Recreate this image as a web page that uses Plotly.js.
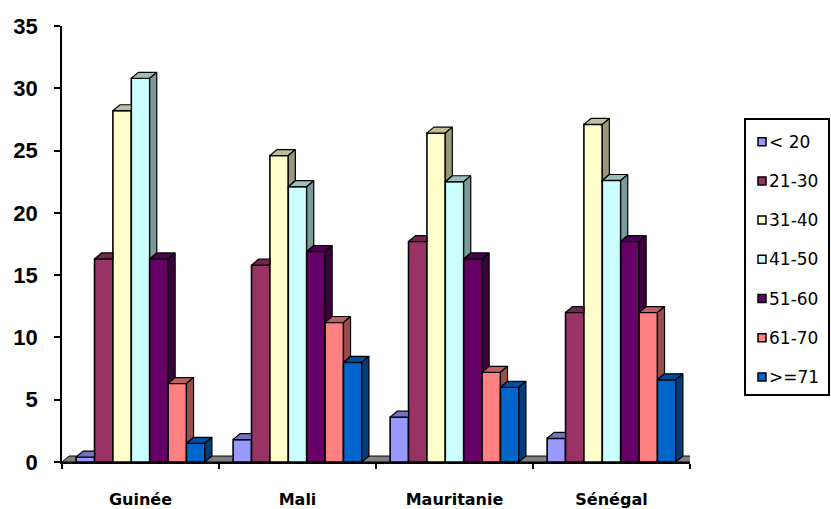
<!DOCTYPE html>
<html>
<head>
<meta charset="utf-8">
<script src="https://cdn.plot.ly/plotly-3.0.1.min.js"></script>
<style>
  html, body { margin: 0; padding: 0; background: #ffffff; }
  #chart { width: 831px; height: 509px; }
</style>
</head>
<body>
<div id="chart"></div>
<script>
// Répartition par tranche d'âge (%) selon le pays
const countries = ['Guinée', 'Mali', 'Mauritanie', 'Sénégal'];
const ageGroups = ['< 20', '21-30', '31-40', '41-50', '51-60', '61-70', '>=71'];

const under20   = [0.4, 1.8, 3.6, 1.9];
const age21to30 = [16.3, 15.8, 17.7, 12.0];
const age31to40 = [28.2, 24.6, 26.4, 27.1];
const age41to50 = [30.8, 22.1, 22.5, 22.6];
const age51to60 = [16.3, 16.9, 16.3, 17.7];
const age61to70 = [6.3, 11.2, 7.2, 12.0];
const over70    = [1.5, 8.0, 6.0, 6.6];

const seriesValues = [under20, age21to30, age31to40, age41to50, age51to60, age61to70, over70];
const seriesColors = ['#9999FF', '#993366', '#FFFFCC', '#CCFFFF', '#660066', '#FF8080', '#0066CC'];

const yTicks = [0, 5, 10, 15, 20, 25, 30, 35];

// Plot geometry (pixels)
const L = 62, T = 26, PW = 628, PH = 436;
const X_RANGE = [-0.5, 3.5], Y_RANGE = [0, 35];

// Bar layout in data units
const GROUP = 0.82;
const BW = GROUP / seriesValues.length;
// Pseudo-3D depth of each column (data units)
const DX = 0.045, DY = 0.48;

function shade(hex, f) {
  const n = parseInt(hex.slice(1), 16);
  const r = Math.round(((n >> 16) & 255) * f);
  const g = Math.round(((n >> 8) & 255) * f);
  const b = Math.round((n & 255) * f);
  return 'rgb(' + r + ',' + g + ',' + b + ')';
}

const traces = [];

// Front faces: ordinary bar traces
seriesValues.forEach((vals, k) => {
  traces.push({
    type: 'bar',
    name: ageGroups[k],
    x: countries.map((_, i) => i),
    y: vals,
    width: BW,
    offset: -GROUP / 2 + k * BW,
    marker: { color: seriesColors[k], line: { color: '#000000', width: 1.6 } },
    showlegend: false,
    customdata: countries,
    textposition: 'none',
    hovertemplate: '%{customdata}<br>' + ageGroups[k] + ' : %{y}<extra></extra>'
  });
});

// Top and right-side faces, trimmed where the neighbouring column hides them
seriesValues.forEach((vals, k) => {
  const topX = [], topY = [], sideX = [], sideY = [];
  vals.forEach((h, i) => {
    const xl = i - GROUP / 2 + k * BW;
    const xr = xl + BW;
    const next = k < seriesValues.length - 1 ? seriesValues[k + 1][i] : null;

    // top face
    if (next !== null && next >= h + DY) {
      // right corner hidden behind the taller neighbour
      topX.push(xl, xr, xr, xl + DX, xl, null);
      topY.push(h, h, h + DY, h + DY, h, null);
    } else {
      const c = next === null ? h : Math.max(next, h);
      topX.push(xl, xr, xr, xr + DX * (c - h) / DY, xr + DX, xl + DX, xl, null);
      topY.push(h, h, c, c, h + DY, h + DY, h, null);
    }

    // side face
    const bottom = next === null ? 0 : Math.max(0, next);
    if (h > bottom) {
      sideX.push(xr, xr + DX, xr + DX, xr, xr, null);
      sideY.push(bottom, bottom + DY, h + DY, h, bottom, null);
    }
  });
  traces.push({
    type: 'scatter', mode: 'lines', x: topX, y: topY, fill: 'toself',
    fillcolor: shade(seriesColors[k], 0.75),
    line: { color: '#000000', width: 1.2 },
    hoverinfo: 'skip', showlegend: false
  });
  if (sideX.length) {
    traces.push({
      type: 'scatter', mode: 'lines', x: sideX, y: sideY, fill: 'toself',
      fillcolor: shade(seriesColors[k], 0.6),
      line: { color: '#000000', width: 1.2 },
      hoverinfo: 'skip', showlegend: false
    });
  }
});

// Pixel → paper helpers for the key box
const px = v => (v - L) / PW;
const py = v => (T + PH - v) / PH;

const shapes = [
  // floor under the columns
  {
    type: 'path', xref: 'x', yref: 'y', layer: 'below',
    path: 'M ' + X_RANGE[0] + ',0 L ' + X_RANGE[1] + ',0 L ' + (X_RANGE[1] + DX) + ',' + DY +
          ' L ' + (X_RANGE[0] + DX) + ',' + DY + ' Z',
    fillcolor: '#808080', line: { color: '#000000', width: 1 }
  },
  // key frame
  {
    type: 'rect', xref: 'paper', yref: 'paper',
    x0: px(745), x1: px(829), y0: py(395), y1: py(119),
    line: { color: '#000000', width: 2 }, fillcolor: '#ffffff'
  }
];
const annotations = [];

const KEY_TOP = 141.7, KEY_STEP = 39.2;
ageGroups.forEach((name, k) => {
  const cy = KEY_TOP + k * KEY_STEP;
  shapes.push({
    type: 'rect', xref: 'paper', yref: 'paper',
    x0: px(758), x1: px(766), y0: py(cy + 4), y1: py(cy - 4),
    fillcolor: seriesColors[k], line: { color: '#000000', width: 1.5 }
  });
  annotations.push({
    xref: 'paper', yref: 'paper', x: px(767), y: py(cy),
    xanchor: 'left', yanchor: 'middle', showarrow: false,
    text: name,
    font: { family: 'DejaVu Sans, sans-serif', size: 17, color: '#000000' }
  });
});

const layout = {
  width: 831, height: 509,
  margin: { l: L, r: 831 - L - PW, t: T, b: 509 - T - PH, pad: 0 },
  paper_bgcolor: '#ffffff', plot_bgcolor: '#ffffff',
  barmode: 'overlay',
  showlegend: false,
  xaxis: {
    range: X_RANGE,
    tickmode: 'array', tickvals: countries.map((_, i) => i), ticktext: countries,
    ticks: '', showgrid: false, zeroline: false,
    showline: true, linecolor: '#000000', linewidth: 1.5,
    ticklabelstandoff: 22,
    tickfont: { family: 'DejaVu Sans, sans-serif', size: 16, weight: 'bold', color: '#000000' },
    minor: { tickmode: 'linear', tick0: -0.5, dtick: 1, ticks: 'outside', ticklen: 5, tickcolor: '#000000', tickwidth: 1.5, showgrid: false }
  },
  yaxis: {
    range: Y_RANGE,
    tickmode: 'array', tickvals: yTicks,
    ticks: 'outside', ticklen: 6, tickcolor: '#000000', tickwidth: 1.5,
    showgrid: false, zeroline: false,
    showline: true, linecolor: '#000000', linewidth: 1.5,
    ticklabelstandoff: 12,
    tickfont: { family: 'Liberation Sans, Arial, sans-serif', size: 22, weight: 'bold', color: '#000000' }
  },
  shapes: shapes,
  annotations: annotations
};

Plotly.newPlot('chart', traces, layout, { displayModeBar: false });
</script>
</body>
</html>
